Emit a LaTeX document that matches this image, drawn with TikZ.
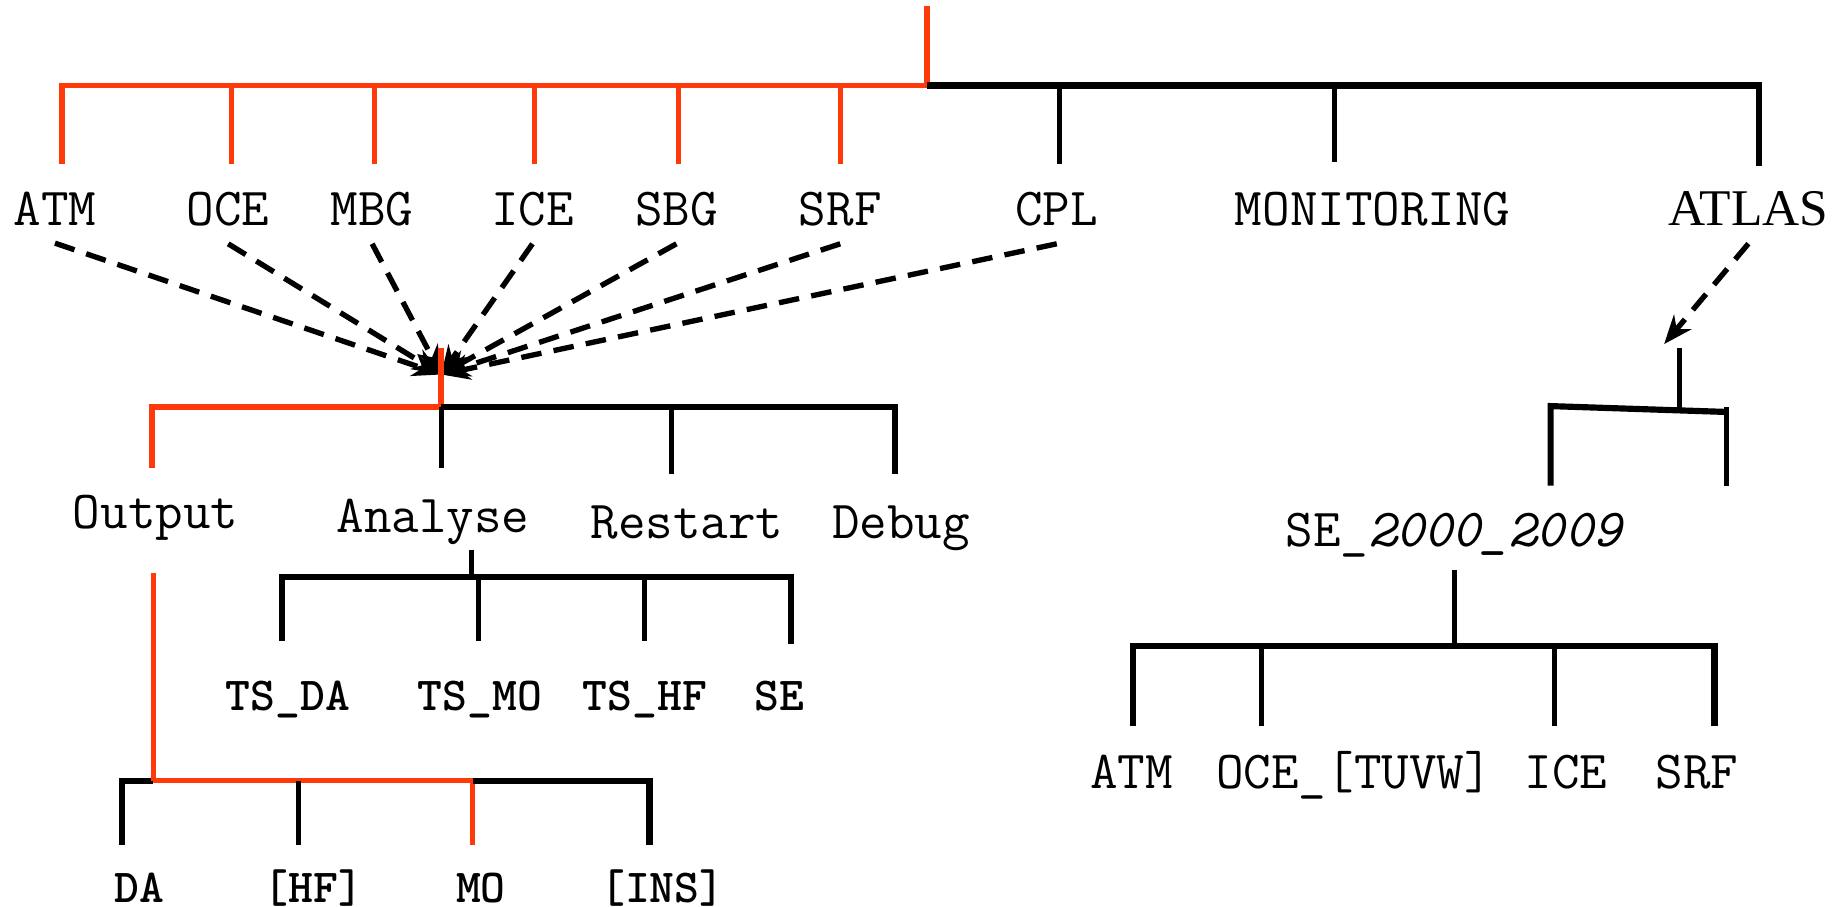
\documentclass[tikz,border=0pt]{standalone}
\usepackage{fontspec}
\usetikzlibrary{arrows.meta}
\newfontfamily\atlasfont{Liberation Serif}
\definecolor{treered}{RGB}{255,58,10}

\begin{document}
\begin{tikzpicture}[x=0.01cm, y=-0.01cm,
        redbar/.style = {draw=treered, line width=1.4pt},
        redtick/.style = {draw=treered, line width=1.2pt},
        blackbar/.style = {draw=black, line width=1.5pt},
        blacktick/.style = {draw=black, line width=1.2pt},
        link/.style = {line width=1.3pt, dash pattern=on 5pt off 3pt, -{Stealth[length=7pt,width=5.5pt]}},
        dirname/.style = {font=\ttfamily\fontsize{13}{15}\selectfont, anchor=base, inner sep=4pt},
        filename/.style = {font=\ttfamily\bfseries\fontsize{11.5}{13}\selectfont, anchor=base, inner sep=4pt}]
    \useasboundingbox (0,0) rectangle (1568,775);
    % first level
    \coordinate (root) at (792,5);
    \coordinate (hubA) at (792,73);
    \coordinate (tATM) at (53,140);
    \coordinate (tOCE) at (198,140);
    \coordinate (tMBG) at (320,140);
    \coordinate (tICE) at (457,140);
    \coordinate (tSBG) at (580,140);
    \coordinate (tSRF) at (718,140);
    \coordinate (tCPL) at (905,140);
    \coordinate (tMON) at (1140,138);
    \coordinate (tATL) at (1503,142);
    \draw[redbar] (tATM) -- (tATM |- hubA) -- (hubA) -- (root);
    \draw[redtick] (tOCE |- hubA) -- (tOCE);
    \draw[redtick] (tMBG |- hubA) -- (tMBG);
    \draw[redtick] (tICE |- hubA) -- (tICE);
    \draw[redtick] (tSBG |- hubA) -- (tSBG);
    \draw[redtick] (tSRF |- hubA) -- (tSRF);
    \draw[blackbar] (hubA) -- (tATL |- hubA) -- (tATL);
    \draw[blacktick] (tCPL |- hubA) -- (tCPL);
    \draw[blacktick] (tMON |- hubA) -- (tMON);
    \node[dirname] (atm) at (47,193) {ATM};
    \node[dirname] (oce) at (195,193) {OCE};
    \node[dirname] (mbg) at (318,193) {MBG};
    \node[dirname] (ice) at (455,193) {ICE};
    \node[dirname] (sbg) at (578,193) {SBG};
    \node[dirname] (srf) at (718,193) {SRF};
    \node[dirname] (cpl) at (903,193) {CPL};
    \node[dirname] (mon) at (1173,193) {MONITORING};
    \node[dirname, font=\atlasfont\fontsize{12.5}{14}\selectfont] (atlas) at (1494,193) {ATLAS};
    % every component writes into the same tree
    \coordinate (in) at (377,320);
    \draw[link] (atm.south) -- (in);
    \draw[link] (oce.south) -- (in);
    \draw[link] (mbg.south) -- (in);
    \draw[link] (ice.south) -- (in);
    \draw[link] (sbg.south) -- (in);
    \draw[link] (srf.south) -- (in);
    \draw[link] (cpl.south) -- (in);
    % second level
    \coordinate (inTop) at (377,297);
    \coordinate (hubB) at (377,348);
    \coordinate (tOut) at (130,400);
    \coordinate (tAna) at (377,400);
    \coordinate (tRes) at (574,405);
    \coordinate (tDeb) at (765,405);
    \draw[redbar] (tOut) -- (tOut |- hubB) -- (hubB) -- (inTop);
    \draw[blackbar] (hubB) -- (tDeb |- hubB) -- (tDeb);
    \draw[blacktick] (hubB) -- (tAna);
    \draw[blacktick] (tRes |- hubB) -- (tRes);
    \node[dirname] (output) at (133,452) {Output};
    \node[dirname] (analyse) at (370,455) {Analyse};
    \node[dirname] (restart) at (587,460) {Restart};
    \node[dirname] (debug) at (770,460) {Debug};
    % Analyse
    \coordinate (anaTop) at (403,470);
    \coordinate (hubC) at (403,493);
    \coordinate (tTSDA) at (241,548);
    \coordinate (tTSMO) at (409,548);
    \coordinate (tTSHF) at (551,548);
    \coordinate (tSE) at (676,550);
    \draw[blacktick] (anaTop) -- (hubC);
    \draw[blackbar] (tTSDA) -- (tTSDA |- hubC) -- (tSE |- hubC) -- (tSE);
    \draw[blacktick] (tTSMO |- hubC) -- (tTSMO);
    \draw[blacktick] (tTSHF |- hubC) -- (tTSHF);
    \node[filename] (tsda) at (246,607) {TS\_DA};
    \node[filename] (tsmo) at (410,607) {TS\_MO};
    \node[filename] (tshf) at (551,607) {TS\_HF};
    \node[filename] (se) at (666,607) {SE};
    % Output
    \coordinate (outTop) at (131,490);
    \coordinate (hubD) at (131,667);
    \coordinate (tDA) at (104,722);
    \coordinate (tHF) at (255,722);
    \coordinate (tMO) at (404,722);
    \coordinate (tINS) at (555,722);
    \draw[blackbar] (tDA) -- (tDA |- hubD) -- (hubD);
    \draw[redtick] (outTop) -- (hubD);
    \draw[redbar] (hubD) -- (tMO |- hubD);
    \draw[redtick] (tMO |- hubD) -- (tMO);
    \draw[blackbar] (tMO |- hubD) -- (tINS |- hubD) -- (tINS);
    \draw[blacktick] (tHF |- hubD) -- (tHF);
    \node[filename] (da) at (119,771) {DA};
    \node[filename] (hf) at (268,771) {[HF]};
    \node[filename] (mo) at (411,771) {MO};
    \node[filename] (ins) at (566,771) {[INS]};
    % ATLAS
    \coordinate (seIn) at (1422,294);
    \draw[link] (atlas.south) -- (seIn);
    \coordinate (seTop) at (1435,297);
    \coordinate (hubE) at (1435,350);
    \coordinate (seL) at (1325,347);
    \coordinate (seR) at (1475,352);
    \coordinate (tSeL) at (1325,415);
    \coordinate (tSeR) at (1475,415);
    \draw[blacktick] (seTop) -- (hubE);
    \draw[blackbar] (tSeL) -- (seL) -- (seR);
    \draw[blacktick] (1475,348) -- (tSeR);
    \node[dirname] (sedir) at (1243,467) {SE\_\textit{2000\_2009}};
    \coordinate (seMid) at (1243,487);
    \coordinate (hubF) at (1243,552);
    \coordinate (tAtm) at (968,620);
    \coordinate (tOce) at (1078,620);
    \coordinate (tIce) at (1328,620);
    \coordinate (tSrf) at (1465,620);
    \draw[blacktick] (seMid) -- (hubF);
    \draw[blackbar] (tAtm) -- (tAtm |- hubF) -- (tSrf |- hubF) -- (tSrf);
    \draw[blacktick] (tOce |- hubF) -- (tOce);
    \draw[blacktick] (tIce |- hubF) -- (tIce);
    \node[dirname] (seatm) at (967,674) {ATM};
    \node[dirname] (seoce) at (1157,674) {OCE\_[TUVW]};
    \node[dirname] (seice) at (1338,674) {ICE};
    \node[dirname] (sesrf) at (1450,674) {SRF};
\end{tikzpicture}
\end{document}
